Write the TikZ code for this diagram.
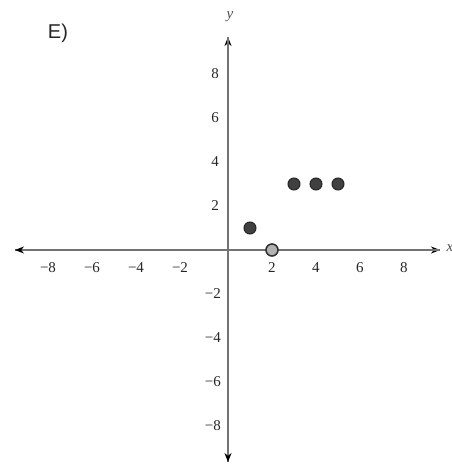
\documentclass[tikz,border=0pt]{standalone}
\usepackage{fontspec}
\setmainfont{Liberation Serif}
\usetikzlibrary{arrows.meta}
\begin{document}
\begin{tikzpicture}[x=1pt,y=1pt,
  axisline/.style={draw=black!55,line width=2pt},
  tick/.style={font=\fontsize{15}{15}\selectfont,text=black!85,inner sep=0pt},
  dot/.style={circle,fill=black!75,draw=black!85,minimum size=12pt,inner sep=0pt,line width=1pt},
  opendot/.style={circle,fill=black!30,draw=black!80,minimum size=12pt,inner sep=0pt,line width=1.6pt}]
\useasboundingbox (-228,-214) rectangle (224,250);
\def\u{22}
\coordinate (xl) at (-213,0);
\coordinate (xr) at (212,0);
\coordinate (yb) at (0,-212);
\coordinate (yt) at (0,213);
\draw[axisline,-{Stealth[length=9pt,width=7pt,black]}] (xl) -- (xr);
\draw[axisline,-{Stealth[length=9pt,width=7pt,black]}] (xr) -- (xl);
\draw[axisline,-{Stealth[length=9pt,width=7pt,black]}] (yb) -- (yt);
\draw[axisline,-{Stealth[length=9pt,width=7pt,black]}] (yt) -- (yb);
\node[font=\itshape\fontsize{15}{15}\selectfont,text=black!70] (xlab) at (222,2) {x};
\node[font=\itshape\fontsize{15}{15}\selectfont,text=black!70] (ylab) at (2,233) {y};
\node[font=\fontsize{20}{20}\selectfont\fontspec{Liberation Sans},text=black!85] (E) at (-170,217) {E)};
\foreach \v in {2,4,6,8} {
  \node[tick] (xtm\v) at (-\v*\u-4,-18) {−\v};
  \node[tick] (xt\v) at (\v*\u,-18) {\v};
  \node[tick,anchor=east] (yt\v) at (-9,\v*\u) {\v};
  \node[tick,anchor=east] (ytm\v) at (-7,-\v*\u) {−\v};
}
\node[dot] (p1) at (1*\u,1*\u) {};
\node[opendot] (p2) at (2*\u,0) {};
\node[dot] (p3) at (3*\u,3*\u) {};
\node[dot] (p4) at (4*\u,3*\u) {};
\node[dot] (p5) at (5*\u,3*\u) {};
\end{tikzpicture}
\end{document}
